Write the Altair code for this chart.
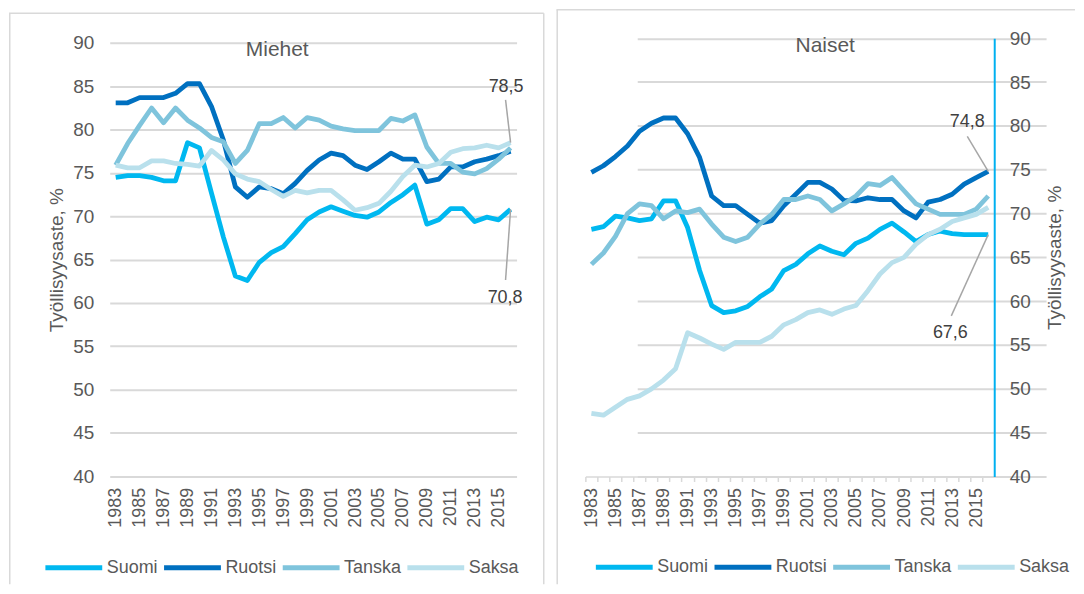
import altair as alt
import pandas as pd

# ---------------- data ----------------
years = list(range(1983, 2017))
series_names = ["Suomi", "Ruotsi", "Tanska", "Saksa"]
series_colors = ["#00B8F0", "#0070C0", "#7FC4DC", "#B9E0EC"]
y_ticks = [40, 45, 50, 55, 60, 65, 70, 75, 80, 85, 90]
x_label_years = list(range(1983, 2016, 2))
panel_titles = ["Miehet", "Naiset"]
axis_title = "Työllisyysaste, %"

men_suomi = [74.5, 74.7, 74.7, 74.5, 74.1, 74.1, 78.5, 77.9, 72.7, 67.6,
             63.1, 62.6, 64.7, 65.8, 66.5, 68.0, 69.6, 70.5, 71.1, 70.6,
             70.1, 69.9, 70.5, 71.6, 72.5, 73.6, 69.1, 69.6, 70.9, 70.9,
             69.4, 69.9, 69.6, 70.8]
men_ruotsi = [83.1, 83.1, 83.7, 83.7, 83.7, 84.2, 85.3, 85.3, 82.7, 78.8,
              73.4, 72.2, 73.4, 73.2, 72.6, 73.8, 75.3, 76.5, 77.3, 77.0,
              75.9, 75.4, 76.3, 77.3, 76.6, 76.6, 74.0, 74.3, 75.7, 75.7,
              76.3, 76.6, 77.0, 77.5]
men_tanska = [75.9, 78.4, 80.5, 82.5, 80.8, 82.5, 81.1, 80.2, 79.1, 78.6,
              76.1, 77.6, 80.7, 80.7, 81.4, 80.2, 81.4, 81.1, 80.4, 80.1,
              79.9, 79.9, 79.9, 81.3, 81.0, 81.7, 78.0, 76.1, 76.1, 75.1,
              74.9, 75.5, 76.6, 77.9]
men_saksa = [75.9, 75.6, 75.6, 76.4, 76.4, 76.1, 76.0, 75.8, 77.6, 76.5,
             74.9, 74.3, 74.0, 73.1, 72.3, 73.0, 72.7, 73.0, 73.0, 71.9,
             70.7, 71.0, 71.5, 72.9, 74.6, 75.9, 75.7, 76.1, 77.4, 77.8,
             77.9, 78.2, 77.9, 78.5]

women_suomi = [68.2, 68.5, 69.7, 69.5, 69.2, 69.4, 71.45, 71.45, 68.4, 63.5,
               59.5, 58.7, 58.9, 59.4, 60.5, 61.4, 63.5, 64.2, 65.4, 66.3,
               65.7, 65.3, 66.6, 67.2, 68.2, 68.9, 67.9, 66.8, 67.6, 68.0,
               67.7, 67.6, 67.6, 67.6]
women_ruotsi = [74.7, 75.45, 76.5, 77.7, 79.4, 80.3, 80.9, 80.9, 79.1, 76.4,
                72.0, 70.9, 70.9, 69.9, 68.9, 69.2, 70.9, 72.2, 73.55, 73.55,
                72.8, 71.5, 71.45, 71.8, 71.6, 71.6, 70.3, 69.5, 71.3, 71.6,
                72.2, 73.35, 74.1, 74.8]
women_tanska = [64.2, 65.5, 67.4, 70.0, 71.1, 70.9, 69.4, 70.3, 70.1, 70.5,
                68.8, 67.3, 66.8, 67.3, 68.8, 69.9, 71.6, 71.6, 72.0, 71.6,
                70.3, 71.1, 72.0, 73.4, 73.2, 74.1, 72.6, 71.1, 70.5, 69.9,
                69.9, 69.9, 70.5, 72.0]
women_saksa = [47.2, 47.0, 47.9, 48.8, 49.2, 50.0, 51.0, 52.3, 56.4, 55.8,
               55.1, 54.5, 55.3, 55.3, 55.3, 56.0, 57.3, 57.9, 58.7, 59.0,
               58.5, 59.1, 59.5, 61.2, 63.1, 64.4, 65.0, 66.5, 67.6, 68.2,
               69.1, 69.5, 69.9, 70.7]

# which end values carry a data label (series name per panel)
men_labelled = ["Saksa", "Suomi"]
women_labelled = ["Ruotsi", "Suomi"]

FONT = "Liberation Sans"
GREY_TXT = "#595959"
GRID = "#D9D9D9"
FRAME = "#D9D9D9"


def long_table(values):
    rows = []
    for name, vals in zip(series_names, values):
        for yr, v in zip(years, vals):
            rows.append({"year": yr, "series": name, "value": v})
    return pd.DataFrame(rows)


def label_table(df, names, offsets):
    last = df[df["year"] == years[-1]].set_index("series")
    rows = []
    for name, (lx, ly, tx, ty) in zip(names, offsets):
        v = float(last.loc[name, "value"])
        rows.append({"year": years[-1], "value": v,
                     "lx": years[-1] + lx, "ly": v + ly,
                     "tx": years[-1] + tx, "ty": v + ty})
    return pd.DataFrame(rows)


def panel(df, labels, title, width, height, xr, yr, right_axis, legend_xy,
          title_xy, frame):
    x_scale = alt.Scale(domain=[years[0] - 0.5, years[-1] + 0.5], range=xr)
    y_scale = alt.Scale(domain=[y_ticks[0], y_ticks[-1]], range=yr, nice=False, zero=False)

    if right_axis:
        x_axis = alt.Axis(values=years, title=None, labelAngle=270, format="d",
                          labelExpr="datum.value % 2 == 1 ? datum.label : ''",
                          labelFont=FONT, labelFontSize=18, labelColor=GREY_TXT,
                          domain=True, domainColor=GRID, domainWidth=1.5,
                          ticks=True, tickSize=5, tickColor=GRID, tickWidth=1.5,
                          tickOffset=-6.03, labelOffset=6.03,
                          labelPadding=6, grid=False, labelOverlap=False, labelFlush=False,
                          offset=-(height - yr[0]))
        y_axis = alt.Axis(orient="right", values=y_ticks, title=axis_title,
                          titleAngle=270, titleBaseline="top", titlePadding=15,
                          titleFont=FONT, titleFontSize=19, titleColor=GREY_TXT,
                          titleFontWeight="normal",
                          labelFont=FONT, labelFontSize=19, labelColor=GREY_TXT,
                          domain=True, domainColor="#00B0F0", domainWidth=2,
                          ticks=False, tickSize=0, labelPadding=15,
                          grid=True, gridColor=GRID, gridWidth=2,
                          offset=-(width - xr[1]))
    else:
        x_axis = alt.Axis(values=x_label_years, title=None, labelAngle=270, format="d",
                          labelFont=FONT, labelFontSize=18, labelColor=GREY_TXT,
                          domain=False, ticks=False, tickSize=0, labelPadding=11,
                          grid=False, labelOverlap=False, labelFlush=False,
                          offset=-(height - yr[0]))
        y_axis = alt.Axis(orient="left", values=y_ticks, title=axis_title,
                          titlePadding=6, titleFont=FONT, titleFontSize=19,
                          titleColor=GREY_TXT, titleFontWeight="normal",
                          labelFont=FONT, labelFontSize=19, labelColor=GREY_TXT,
                          domain=False, ticks=False, tickSize=0, labelPadding=16,
                          grid=True, gridColor=GRID, gridWidth=2,
                          offset=-xr[0])

    X = lambda f: alt.X(f, type="quantitative", scale=x_scale, axis=x_axis)
    Y = lambda f: alt.Y(f, type="quantitative", scale=y_scale, axis=y_axis)

    lines = alt.Chart(df).mark_line(strokeWidth=4.8, strokeJoin="round").encode(
        x=X("year"),
        y=Y("value"),
        color=alt.Color("series:N",
                        scale=alt.Scale(domain=series_names, range=series_colors),
                        sort=series_names,
                        legend=alt.Legend(title=None, orient="none",
                                          legendX=legend_xy[0], legendY=legend_xy[1],
                                          direction="horizontal", columns=4,
                                          symbolType="stroke", symbolSize=3249,
                                          symbolStrokeWidth=5,
                                          labelFont=FONT, labelFontSize=18,
                                          labelColor=GREY_TXT, labelOffset=2,
                                          columnPadding=-5, padding=0)),
    )

    leaders = alt.Chart(labels).mark_rule(color="#A6A6A6", strokeWidth=1.5).encode(
        x=X("year"), y=Y("value"), x2="lx:Q", y2="ly:Q")

    texts = alt.Chart(labels).mark_text(font=FONT, fontSize=18, color="#404040",
                                         align="center", baseline="middle").encode(
        x=X("tx"), y=Y("ty"), text=alt.Text("txt:N")
    ).transform_calculate(txt="replace(format(datum.value, '.1f'), '.', ',')")

    head = alt.Chart(pd.DataFrame({"t": [title]})).mark_text(
        font=FONT, fontSize=21, color=GREY_TXT, align="center", baseline="alphabetic"
    ).encode(text="t:N", x=alt.value(title_xy[0]), y=alt.value(title_xy[1]))

    # panel frame (decoration): top edge + vertical edges
    fx0, fy0, fx1 = frame
    frame_layers = [
        alt.Chart(pd.DataFrame({"k": [0]})).mark_rule(color=FRAME, strokeWidth=1.5).encode(
            x=alt.value(0), x2=alt.value(fx1 if fx1 else width), y=alt.value(fy0)),
        alt.Chart(pd.DataFrame({"k": [0]})).mark_rule(color=FRAME, strokeWidth=1.5).encode(
            x=alt.value(fx0), y=alt.value(fy0), y2=alt.value(height)),
    ]
    if fx1:
        frame_layers.append(
            alt.Chart(pd.DataFrame({"k": [0]})).mark_rule(color=FRAME, strokeWidth=1.5).encode(
                x=alt.value(fx1), y=alt.value(fy0), y2=alt.value(height)))

    return alt.layer(*frame_layers, lines, leaders, texts, head).properties(
        width=width, height=height)


men_df = long_table([men_suomi, men_ruotsi, men_tanska, men_saksa])
women_df = long_table([women_suomi, women_ruotsi, women_tanska, women_saksa])

men_lab = label_table(men_df, men_labelled,
                      [(-0.42, 4.94, -0.375, 6.4), (-0.42, -8.15, -0.46, -10.26)])
women_lab = label_table(women_df, women_labelled,
                        [(-1.74, 4.0, -1.74, 5.6), (-3.07, -9.28, -3.15, -11.22)])

H = 577
left = panel(men_df, men_lab, panel_titles[0], 537, H, [101, 509], [468.8, 34.3],
             False, (34, 529.5), (269, 47), (0.75, 4.5, 536.25))
right = panel(women_df, women_lab, panel_titles[1], 520, H, [29, 439], [469, 29.5],
              True, (37, 529), (269.5, 43), (0.75, 1, None))

chart = alt.hconcat(left, right, spacing=11).resolve_scale(
    color="independent").resolve_legend(color="independent").properties(
    padding={"left": 0, "top": 0, "right": 0, "bottom": 0}
).configure_view(strokeWidth=0)

chart.save("out.html", embed_options={"renderer": "svg", "actions": False})
